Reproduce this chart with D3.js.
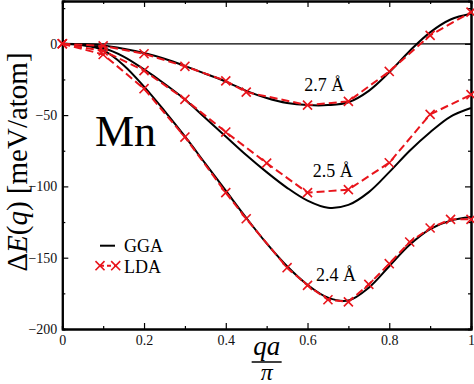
<!DOCTYPE html>
<html>
<head>
<meta charset="utf-8">
<script src="https://cdn.jsdelivr.net/npm/d3@7"></script>
<style>
  body { margin: 0; background: #fff; }
  svg { display: block; font-family: "Liberation Serif", "Times New Roman", serif; }
  .axis path, .axis line { stroke: #000; }
</style>
</head>
<body>
<div class="chart"></div>
<script>
// GGA curves (smooth black lines)
var ggaQ = [0, 0.05, 0.1, 0.15, 0.2, 0.25, 0.3, 0.35, 0.4, 0.45, 0.5, 0.55, 0.6, 0.65, 0.7, 0.75, 0.8, 0.85, 0.9, 0.95, 1.0];
var gga27 = [0, -0.3, -1.2, -3.5, -6.5, -10.5, -15.5, -21, -26.5, -33, -38, -41.5, -43, -43, -41, -33, -20, -5, 8, 17, 21];
var gga25 = [0, -0.8, -3, -9, -18, -28, -39, -52, -65, -78, -90, -101, -110, -115, -113, -104, -90, -75, -62, -51, -45];
var gga24 = [0, -1, -4.5, -15, -30, -47, -65, -84, -103, -122, -140, -156, -169, -178, -180, -171, -156, -141, -130, -124, -121.5];

// LDA points (red dashed with crosses)
var lda27Q = [0, 0.1, 0.2, 0.3, 0.4, 0.45, 0.6, 0.7, 0.8, 0.9, 1.0];
var lda27 = [0, -1.5, -7, -15.8, -26, -33.9, -43, -40.4, -19.4, 5.9, 22.2];
var lda25Q = [0, 0.1, 0.2, 0.3, 0.4, 0.5, 0.6, 0.7, 0.8, 0.9, 1.0];
var lda25 = [0, -5, -18.8, -39, -61.9, -83.7, -104.4, -102.3, -83.4, -49.5, -35.7];
var lda24Q = [0, 0.1, 0.2, 0.3, 0.4, 0.45, 0.55, 0.6, 0.65, 0.7, 0.75, 0.8, 0.85, 0.9, 0.95, 1.0];
var lda24 = [0, -7.5, -31.5, -65.4, -104.4, -122.7, -157, -169.4, -179.5, -181, -168.7, -154.2, -139, -129.2, -123.1, -123.1];

var xTicks = [0, 0.2, 0.4, 0.6, 0.8, 1];
var xTickLabels = ["0", "0.2", "0.4", "0.6", "0.8", "1"];
var yTicks = [0, -50, -100, -150, -200];
var xMinor = [0.1, 0.3, 0.5, 0.7, 0.9];
var yMinor = [25, -25, -75, -125, -175];

var curveLabels = [
  {text: "2.7 Å", q: 0.592, e: -33},
  {text: "2.5 Å", q: 0.613, e: -93.4},
  {text: "2.4 Å", q: 0.621, e: -166.3}
];

var svgWidth = 474, svgHeight = 384;
var margin = {top: 1, right: 3, bottom: 55, left: 62.3};
var width = svgWidth - margin.left - margin.right;
var height = svgHeight - margin.top - margin.bottom;

var svg = d3.select(".chart").append("svg")
  .attr("width", svgWidth)
  .attr("height", svgHeight);

var g = svg.append("g")
  .attr("transform", `translate(${margin.left}, ${margin.top})`);

var x = d3.scaleLinear().domain([0, 1]).range([0, width]);
var y = d3.scaleLinear().domain([-200, 30]).range([height, 0]);

// zero line
g.append("line")
  .attr("x1", x(0)).attr("x2", x(1))
  .attr("y1", y(0)).attr("y2", y(0))
  .attr("stroke", "#000").attr("stroke-width", 1.2);

// axes with inward ticks
function styleAxis(sel) {
  sel.classed("axis", true)
    .attr("font-family", "Liberation Serif")
    .attr("font-size", 14);
  sel.select(".domain").attr("stroke-width", 2);
  sel.selectAll(".tick line").attr("stroke-width", 1.2);
  sel.selectAll(".tick text").attr("fill", "#111");
}

g.append("g").attr("transform", `translate(0,${height})`)
  .call(d3.axisBottom(x).tickValues(xTicks).tickSizeInner(-6).tickSizeOuter(0).tickPadding(6)
    .tickFormat((d, i) => xTickLabels[i]))
  .call(styleAxis);
g.append("g").attr("transform", `translate(0,${height})`)
  .call(d3.axisBottom(x).tickValues(xMinor).tickSize(-3).tickFormat(""))
  .call(styleAxis);

g.append("g")
  .call(d3.axisTop(x).tickValues(xTicks).tickSizeInner(-6).tickSizeOuter(0).tickFormat(""))
  .call(styleAxis);
g.append("g")
  .call(d3.axisTop(x).tickValues(xMinor).tickSize(-3).tickFormat(""))
  .call(styleAxis);

g.append("g")
  .call(d3.axisLeft(y).tickValues(yTicks).tickSizeInner(-6).tickSizeOuter(0).tickPadding(5)
    .tickFormat(d3.format("d")))
  .call(styleAxis);
g.append("g")
  .call(d3.axisLeft(y).tickValues(yMinor).tickSize(-3).tickFormat(""))
  .call(styleAxis);

g.append("g").attr("transform", `translate(${width},0)`)
  .call(d3.axisRight(y).tickValues(yTicks).tickSizeInner(-6).tickSizeOuter(0).tickFormat(""))
  .call(styleAxis);
g.append("g").attr("transform", `translate(${width},0)`)
  .call(d3.axisRight(y).tickValues(yMinor).tickSize(-3).tickFormat(""))
  .call(styleAxis);

// GGA lines
var smooth = d3.line()
  .x(d => x(d[0]))
  .y(d => y(d[1]))
  .curve(d3.curveCatmullRom.alpha(0.5));

[gga27, gga25, gga24].forEach(function(vals) {
  g.append("path")
    .datum(ggaQ.map((q, i) => [q, vals[i]]))
    .attr("d", smooth)
    .attr("fill", "none")
    .attr("stroke", "#000")
    .attr("stroke-width", 2);
});

// LDA dashed lines with crosses
var straight = d3.line().x(d => x(d[0])).y(d => y(d[1]));
var crossPath = d3.symbol().type(d3.symbolX).size(55);

[[lda27Q, lda27], [lda25Q, lda25], [lda24Q, lda24]].forEach(function(s) {
  var pts = s[0].map((q, i) => [q, s[1][i]]);
  g.append("path")
    .datum(pts)
    .attr("d", straight)
    .attr("fill", "none")
    .attr("stroke", "#e8141b")
    .attr("stroke-width", 2)
    .attr("stroke-dasharray", "8,4");
  g.selectAll(null)
    .data(pts)
    .enter()
    .append("path")
    .attr("d", crossPath)
    .attr("transform", d => `translate(${x(d[0])},${y(d[1])})`)
    .attr("fill", "none")
    .attr("stroke", "#e8141b")
    .attr("stroke-width", 1.6);
});

// curve labels
g.selectAll(".clabel")
  .data(curveLabels)
  .enter()
  .append("text")
  .attr("x", d => x(d.q))
  .attr("y", d => y(d.e))
  .style("font-size", "18px")
  .text(d => d.text);

// element label
g.append("text")
  .attr("x", x(0.08))
  .attr("y", y(-71.7))
  .style("font-size", "44px")
  .text("Mn");

// legend
var legend = svg.append("g");
legend.append("line")
  .attr("x1", 100).attr("x2", 115).attr("y1", 245.7).attr("y2", 245.7)
  .attr("stroke", "#000").attr("stroke-width", 2);
legend.append("text").attr("x", 124).attr("y", 252)
  .style("font-size", "18px").text("GGA");
legend.append("line")
  .attr("x1", 100).attr("x2", 116).attr("y1", 265.7).attr("y2", 265.7)
  .attr("stroke", "#e8141b").attr("stroke-width", 2).attr("stroke-dasharray", "4,3");
[100, 115.7].forEach(function(cx) {
  legend.append("path")
    .attr("d", crossPath)
    .attr("transform", `translate(${cx},265.7)`)
    .attr("fill", "none").attr("stroke", "#e8141b").attr("stroke-width", 1.6);
});
legend.append("text").attr("x", 124).attr("y", 273)
  .style("font-size", "18px").text("LDA");

// y axis label
var ylab = svg.append("text")
  .attr("transform", "translate(27,162) rotate(-90)")
  .attr("text-anchor", "middle")
  .style("font-size", "29px");
ylab.append("tspan").text("Δ");
ylab.append("tspan").style("font-style", "italic").text("E");
ylab.append("tspan").text("(");
ylab.append("tspan").style("font-style", "italic").text("q");
ylab.append("tspan").text(") [meV/atom]");

// x axis label (fraction qa / pi)
var xc = margin.left + x(0.5);
svg.append("text")
  .attr("x", xc).attr("y", 355)
  .attr("text-anchor", "middle")
  .style("font-size", "27px").style("font-style", "italic")
  .text("qa");
svg.append("line")
  .attr("x1", xc - 15).attr("x2", xc + 15)
  .attr("y1", 362).attr("y2", 362)
  .attr("stroke", "#000").attr("stroke-width", 1.5);
svg.append("text")
  .attr("x", xc).attr("y", 380)
  .attr("text-anchor", "middle")
  .style("font-size", "24px").style("font-style", "italic")
  .text("π");
</script>
</body>
</html>
